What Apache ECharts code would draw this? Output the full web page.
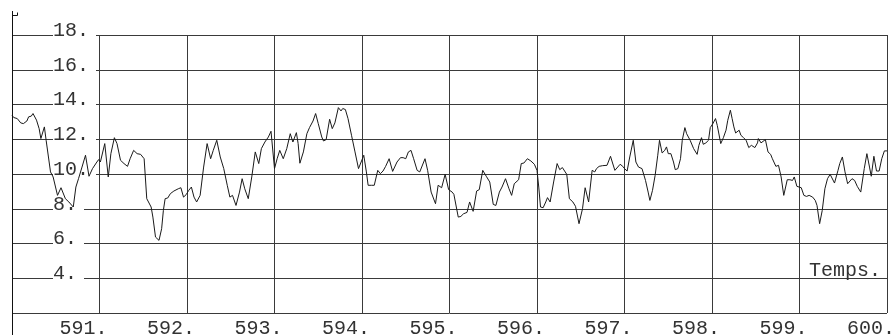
<!DOCTYPE html>
<html>
<head>
<meta charset="utf-8">
<script src="https://cdn.jsdelivr.net/npm/echarts@6/dist/echarts.min.js"></script>
<style>
  html, body { margin: 0; padding: 0; background: #fff; }
  #chart { width: 891px; height: 335px; }
</style>
</head>
<body>
<div id="chart"></div>
<script>
// Time samples (s) and measured values of the recorded signal
const temps = [
  590.00, 590.02, 590.04, 590.06, 590.10, 590.13, 590.17, 590.19, 590.22, 590.24,
  590.26, 590.28, 590.31, 590.33, 590.37, 590.39, 590.44, 590.47, 590.52, 590.56,
  590.58, 590.61, 590.65, 590.70, 590.73, 590.76, 590.80, 590.84, 590.88, 590.92,
  590.97, 590.99, 591.01, 591.06, 591.10, 591.13, 591.17, 591.20, 591.24, 591.28,
  591.32, 591.35, 591.39, 591.43, 591.47, 591.51, 591.54, 591.56, 591.59, 591.61,
  591.64, 591.68, 591.71, 591.73, 591.75, 591.78, 591.81, 591.85, 591.90, 591.93,
  591.96, 591.99, 592.02, 592.05, 592.08, 592.11, 592.15, 592.19, 592.23, 592.27,
  592.30, 592.34, 592.38, 592.42, 592.46, 592.49, 592.52, 592.56, 592.60, 592.63,
  592.66, 592.70, 592.74, 592.78, 592.82, 592.85, 592.89, 592.93, 592.96, 593.00,
  593.03, 593.06, 593.10, 593.14, 593.18, 593.21, 593.25, 593.27, 593.29, 593.33,
  593.37, 593.40, 593.44, 593.47, 593.50, 593.54, 593.56, 593.59, 593.63, 593.66,
  593.69, 593.73, 593.76, 593.78, 593.81, 593.84, 593.88, 593.92, 593.96, 593.99,
  594.02, 594.05, 594.07, 594.11, 594.14, 594.18, 594.21, 594.24, 594.27, 594.31,
  594.35, 594.40, 594.44, 594.47, 594.50, 594.53, 594.56, 594.59, 594.63, 594.66,
  594.68, 594.72, 594.75, 594.79, 594.84, 594.87, 594.91, 594.95, 594.99, 595.03,
  595.05, 595.10, 595.13, 595.16, 595.20, 595.23, 595.27, 595.31, 595.34, 595.38,
  595.42, 595.46, 595.50, 595.53, 595.57, 595.60, 595.64, 595.68, 595.71, 595.74,
  595.79, 595.82, 595.85, 595.89, 595.93, 595.97, 596.00, 596.02, 596.04, 596.07,
  596.10, 596.12, 596.15, 596.19, 596.23, 596.26, 596.29, 596.31, 596.34, 596.37,
  596.41, 596.44, 596.48, 596.52, 596.55, 596.59, 596.63, 596.66, 596.68, 596.71,
  596.75, 596.80, 596.82, 596.84, 596.86, 596.89, 596.91, 596.95, 596.98, 597.00,
  597.03, 597.06, 597.10, 597.13, 597.16, 597.20, 597.24, 597.27, 597.29, 597.32,
  597.35, 597.38, 597.40, 597.43, 597.46, 597.48, 597.50, 597.53, 597.56, 597.58,
  597.61, 597.64, 597.66, 597.69, 597.71, 597.75, 597.79, 597.83, 597.85, 597.88,
  597.90, 597.93, 597.96, 597.98, 598.01, 598.04, 598.06, 598.10, 598.13, 598.16,
  598.18, 598.21, 598.23, 598.25, 598.27, 598.31, 598.33, 598.36, 598.39, 598.42,
  598.45, 598.49, 598.52, 598.53, 598.56, 598.58, 598.61, 598.64, 598.67, 598.69,
  598.73, 598.76, 598.79, 598.82, 598.86, 598.89, 598.92, 598.94, 598.97, 598.99,
  599.02, 599.05, 599.08, 599.11, 599.15, 599.18, 599.20, 599.23, 599.26, 599.29,
  599.32, 599.35, 599.37, 599.40, 599.44, 599.46, 599.49, 599.52, 599.55, 599.57,
  599.60, 599.63, 599.66, 599.70, 599.74, 599.77, 599.80, 599.82, 599.85, 599.88,
  599.91, 599.94, 599.97, 599.99, 600.00
];

const valeurs = [
  13.38, 13.25, 13.29, 13.19, 12.94, 12.90, 13.05, 13.29, 13.33, 13.48,
  13.52, 13.10, 12.61, 12.04, 12.71, 11.94, 10.12, 9.83, 8.77, 9.21,
  9.29, 8.58, 8.39, 8.10, 9.25, 9.73, 10.40, 11.08, 9.87, 10.31,
  10.69, 10.83, 10.69, 11.75, 9.83, 11.17, 12.09, 11.75, 10.79, 10.60,
  10.44, 10.88, 11.36, 11.17, 11.13, 10.88, 8.58, 8.48, 8.10, 7.52,
  6.37, 6.18, 6.85, 7.91, 8.58, 8.62, 8.87, 9.02, 9.15, 9.21,
  8.67, 8.81, 9.06, 9.25, 8.67, 8.39, 8.77, 10.40, 11.75, 10.88,
  11.36, 11.94, 10.98, 10.31, 9.35, 8.67, 8.77, 8.19, 8.96, 9.73,
  9.15, 8.58, 9.83, 11.27, 10.60, 11.46, 11.84, 12.13, 12.46, 10.31,
  10.88, 11.36, 10.88, 11.46, 12.32, 11.84, 12.38, 11.75, 10.62, 11.27,
  12.32, 12.67, 13.05, 13.48, 12.90, 12.13, 11.90, 11.98, 13.15, 12.61,
  12.94, 13.82, 13.63, 13.77, 13.71, 13.19, 12.23, 11.27, 10.31, 10.69,
  11.08, 10.12, 9.35, 9.35, 9.35, 10.21, 10.02, 10.17, 10.44, 10.88,
  10.15, 10.69, 10.94, 10.94, 10.88, 11.27, 11.36, 10.88, 10.21, 10.12,
  10.21, 10.88, 10.21, 8.96, 8.29, 9.35, 9.21, 9.98, 9.10, 8.96,
  8.83, 7.52, 7.56, 7.71, 7.79, 8.39, 7.85, 9.02, 9.10, 10.21,
  9.87, 9.54, 8.25, 8.19, 8.96, 9.25, 9.73, 9.15, 8.77, 9.44,
  9.67, 10.60, 10.63, 10.88, 10.75, 10.56, 10.21, 9.25, 8.10, 8.06,
  8.39, 8.64, 8.39, 9.54, 10.60, 10.25, 10.37, 10.31, 9.98, 8.58,
  8.39, 8.14, 7.14, 8.00, 9.21, 8.39, 10.21, 10.12, 10.31, 10.44,
  10.48, 10.50, 10.60, 11.02, 10.69, 10.21, 10.31, 10.56, 10.44, 10.31,
  10.17, 10.98, 11.94, 10.69, 10.40, 10.31, 9.63, 8.96, 8.48, 9.06,
  9.92, 11.08, 11.94, 11.21, 11.36, 11.56, 11.17, 11.17, 10.69, 10.25,
  10.31, 10.88, 11.94, 12.67, 12.32, 11.94, 11.46, 11.13, 11.65, 12.09,
  11.71, 11.79, 11.94, 12.67, 12.90, 13.19, 12.80, 11.75, 12.09, 12.52,
  13.09, 13.67, 13.19, 12.71, 12.36, 12.52, 12.23, 12.09, 11.94, 11.52,
  11.65, 11.52, 11.79, 12.04, 11.79, 11.90, 11.98, 11.27, 11.13, 10.88,
  10.44, 10.50, 9.83, 8.77, 9.67, 9.67, 9.63, 9.83, 9.29, 9.21,
  9.21, 8.77, 8.71, 8.77, 8.67, 8.48, 8.19, 7.14, 7.91, 9.15,
  9.73, 9.98, 9.92, 9.48, 10.21, 10.60, 10.98, 10.12, 9.44, 9.48,
  9.73, 9.63, 9.29, 8.96, 10.31, 11.17, 10.40, 9.87, 11.02, 10.17,
  10.17, 10.88, 11.33, 11.36, 11.33
];

// Axis ranges and ticks
const xMin = 590, xMax = 600, xStep = 1;
const yMin = 2, yMax = 18, yStep = 2;
const xAxisName = 'Temps.';

const monoFont = "'Liberation Mono', 'Courier New', 'DejaVu Sans Mono', monospace";
const inkColor = '#333';
const gridColor = '#3a3a3a';

const chart = echarts.init(document.getElementById('chart'), null, { renderer: 'canvas' });

chart.setOption({
  animation: false,
  backgroundColor: '#fff',
  grid: {
    left: 12, right: 4, top: 35, bottom: 22,
    containLabel: false,
    outerBoundsMode: 'none'
  },
  xAxis: {
    type: 'value',
    min: xMin,
    max: xMax,
    interval: xStep,
    name: xAxisName,
    nameLocation: 'end',
    nameGap: 0,
    nameTextStyle: {
      fontFamily: monoFont,
      fontSize: 20,
      color: inkColor,
      align: 'right',
      verticalAlign: 'bottom',
      lineHeight: 20,
      padding: [0, 6, 32, 0]
    },
    axisLine: { show: false },
    axisTick: { show: false },
    splitLine: { show: true, lineStyle: { color: gridColor, width: 1 } },
    axisLabel: {
      fontFamily: monoFont,
      fontSize: 20,
      color: inkColor,
      margin: 6,
      align: 'right',
      padding: [0, -8, 0, 0],
      formatter: (v) => (v === xMin ? '' : v + '.')
    }
  },
  yAxis: {
    type: 'value',
    min: yMin,
    max: yMax,
    interval: yStep,
    axisLine: { show: false },
    axisTick: { show: false },
    splitLine: { show: true, lineStyle: { color: gridColor, width: 1 } },
    axisLabel: {
      inside: true,
      margin: 41,
      fontFamily: monoFont,
      fontSize: 20,
      lineHeight: 9,
      color: inkColor,
      align: 'left',
      verticalAlign: 'middle',
      backgroundColor: '#fff',
      padding: [0, 7, 0, 0],
      // value sits on its grid line; the empty second line keeps the
      // white box centred on the line so it breaks the rule behind the text
      formatter: (v) => (v === yMin ? '' : v + '.\n')
    }
  },
  graphic: [
    // vertical axis running from the top marker down to the bottom edge
    {
      type: 'polyline',
      silent: true,
      z: 5,
      shape: { points: [[12.5, 11], [12.5, 335]] },
      style: { stroke: '#111', lineWidth: 1, fill: null }
    },
    {
      type: 'polyline',
      silent: true,
      z: 5,
      shape: { points: [[12.5, 15.5], [17.5, 15.5], [17.5, 12.5]] },
      style: { stroke: '#111', lineWidth: 1, fill: null }
    }
  ],
  series: [
    {
      type: 'line',
      data: temps.map((t, i) => [t, valeurs[i]]),
      showSymbol: false,
      symbol: 'none',
      smooth: false,
      lineStyle: { color: '#1a1a1a', width: 1 },
      z: 3
    }
  ]
});
</script>
</body>
</html>
